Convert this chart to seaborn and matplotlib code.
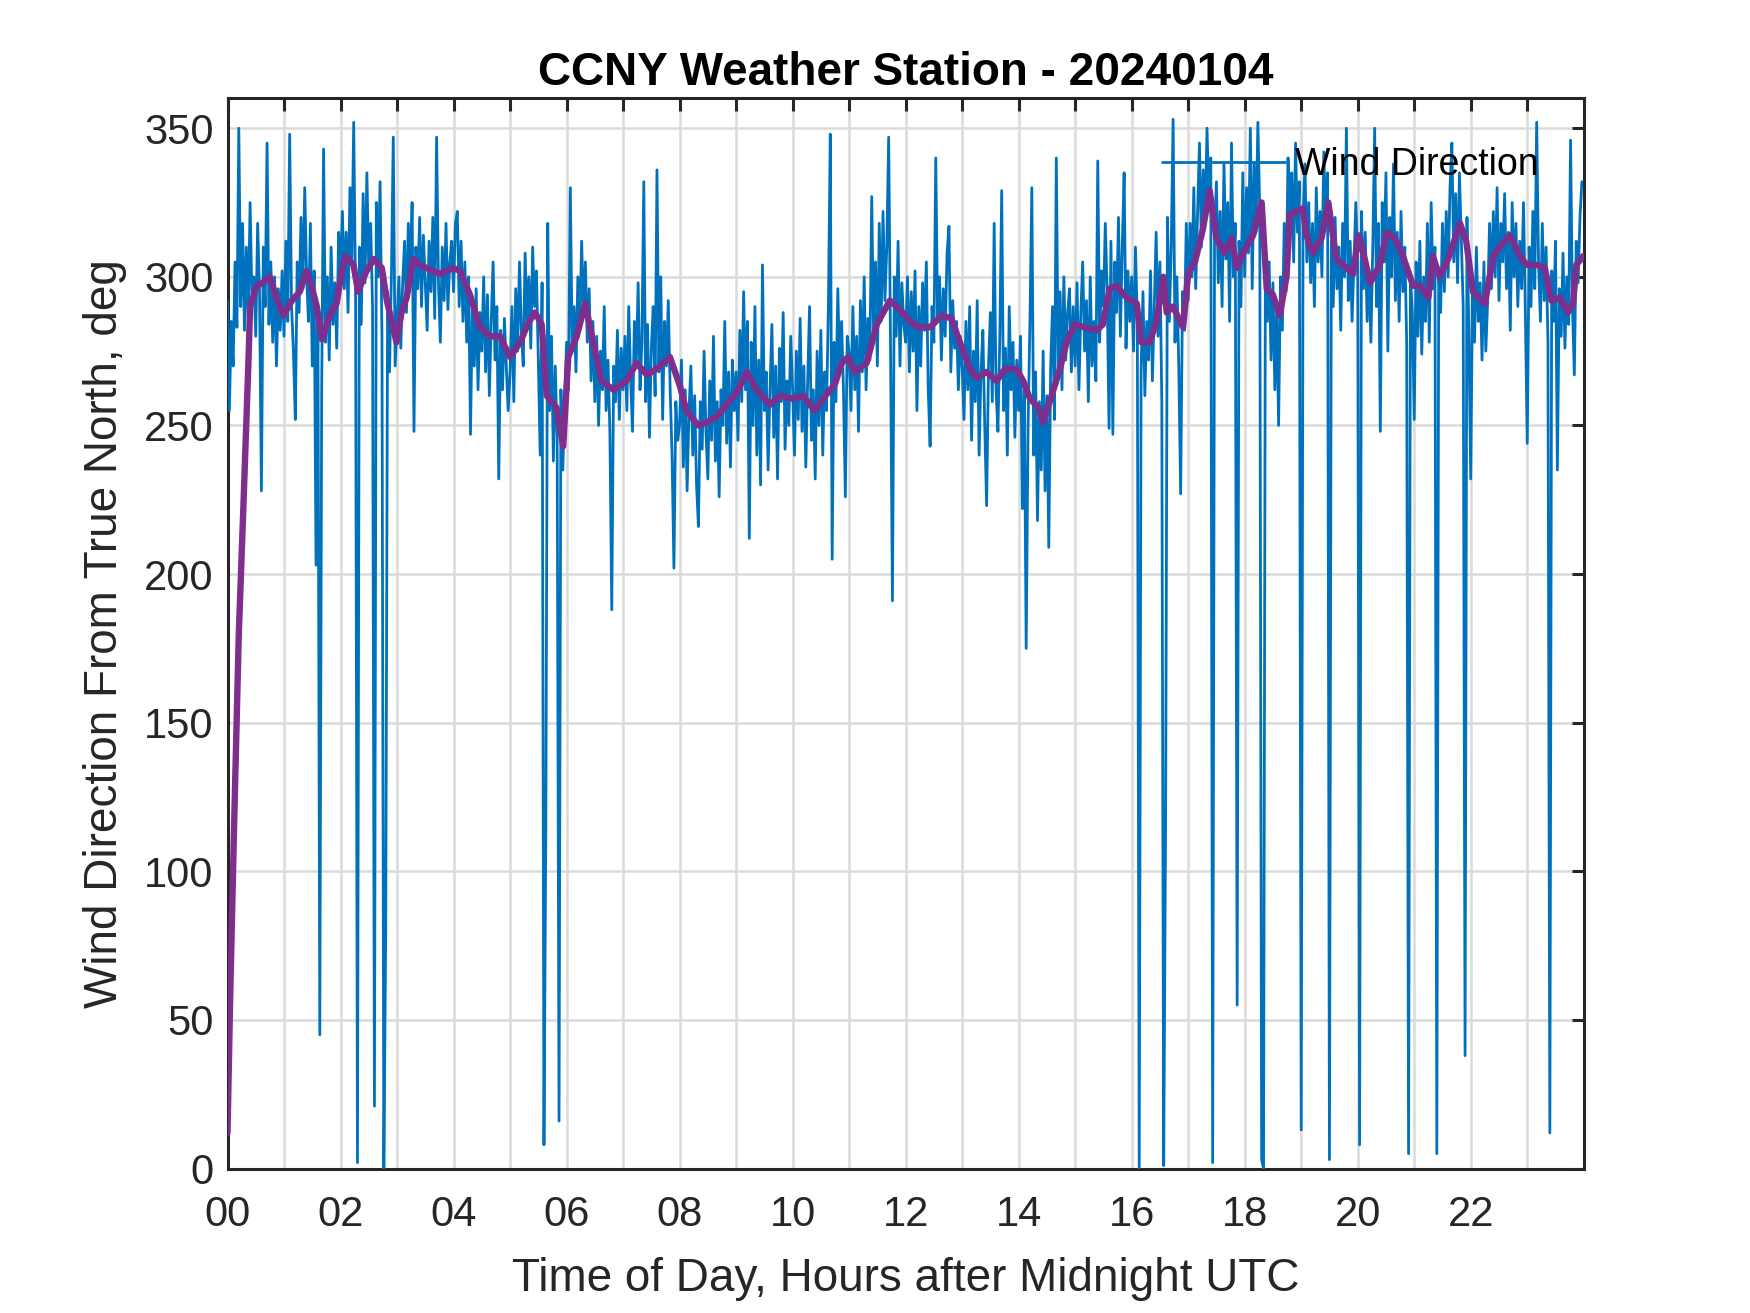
import numpy as np
import pandas as pd
import seaborn as sns
import matplotlib
matplotlib.use("Agg")
from matplotlib import pyplot as plt

# Wind direction (deg from true north), one value every 2 minutes, one row per hour
wind_dir = [
    292, 255, 285, 270, 305, 283, 350, 290, 318, 282, 310, 286, 325, 292, 300, 280, 318, 295, 228, 310, 290, 345, 284, 305, 278, 300, 270, 296, 282, 302,  # 00
    280, 312, 285, 348, 290, 275, 252, 305, 288, 320, 296, 330, 300, 285, 318, 270, 302, 203, 285, 45, 262, 343, 278, 300, 272, 310, 284, 298, 276, 315,  # 01
    300, 322, 296, 315, 288, 330, 305, 352, 292, 2, 310, 284, 328, 298, 335, 302, 318, 290, 21, 325, 300, 332, 280, 0, 80, 295, 268, 300, 347, 270,  # 02
    285, 300, 276, 298, 312, 288, 318, 300, 325, 248, 310, 296, 320, 290, 314, 298, 282, 312, 295, 320, 286, 347, 298, 278, 310, 292, 318, 289, 305, 312,  # 03
    295, 318, 322, 290, 312, 285, 305, 278, 300, 247, 290, 270, 296, 262, 288, 275, 300, 268, 294, 260, 285, 305, 272, 290, 232, 282, 262, 286, 270, 255,  # 04
    268, 290, 258, 296, 275, 305, 282, 270, 308, 285, 300, 276, 310, 290, 302, 272, 240, 298, 8, 115, 318, 255, 280, 238, 270, 246, 16, 262, 235, 258,  # 05
    278, 262, 330, 275, 290, 268, 300, 282, 312, 288, 305, 278, 296, 265, 285, 258, 280, 250, 275, 262, 290, 255, 272, 248, 188, 270, 258, 282, 252, 276,  # 06
    262, 280, 255, 290, 266, 248, 285, 270, 298, 262, 278, 332, 258, 284, 246, 276, 290, 260, 336, 268, 300, 252, 285, 270, 292, 262, 240, 202, 258, 245,  # 07
    250, 272, 236, 262, 228, 255, 270, 240, 260, 230, 216, 258, 242, 275, 248, 232, 265, 245, 280, 238, 258, 226, 262, 250, 285, 244, 268, 236, 272, 255,  # 08
    268, 245, 282, 258, 295, 262, 285, 212, 278, 250, 290, 240, 272, 230, 304, 255, 268, 235, 262, 284, 246, 270, 232, 276, 258, 288, 242, 265, 250, 280,  # 09
    262, 240, 275, 252, 286, 248, 270, 236, 265, 290, 245, 262, 232, 275, 250, 282, 240, 268, 255, 290, 348, 205, 278, 258, 296, 268, 285, 262, 226, 280,  # 10
    275, 255, 290, 262, 280, 248, 292, 268, 300, 262, 286, 272, 327, 280, 305, 270, 318, 285, 322, 292, 310, 347, 275, 191, 300, 280, 312, 270, 298, 284,  # 11
    278, 300, 268, 295, 275, 302, 255, 290, 270, 298, 282, 305, 262, 243, 290, 278, 340, 285, 300, 272, 296, 280, 308, 317, 268, 292, 276, 285, 262, 280,  # 12
    270, 252, 285, 262, 290, 245, 275, 258, 292, 240, 268, 282, 250, 223, 270, 288, 258, 318, 262, 248, 280, 329, 255, 276, 240, 290, 262, 278, 246, 272,  # 13
    255, 280, 222, 262, 175, 250, 285, 330, 240, 268, 218, 258, 235, 275, 228, 260, 209, 270, 290, 252, 340, 268, 295, 262, 300, 272, 288, 296, 268, 290,  # 14
    270, 298, 262, 288, 305, 275, 292, 258, 300, 270, 285, 265, 339, 278, 302, 290, 318, 295, 249, 312, 247, 305, 288, 320, 280, 310, 335, 276, 302, 285,  # 15
    300, 275, 310, 285, 0, 268, 295, 260, 285, 272, 302, 265, 290, 315, 280, 305, 258, 1, 115, 320, 285, 310, 353, 278, 300, 270, 227, 295, 282, 318,  # 16
    292, 318, 300, 330, 296, 322, 345, 310, 336, 318, 350, 325, 340, 2, 315, 332, 298, 322, 290, 338, 306, 325, 285, 345, 300, 318, 55, 312, 290, 335,  # 17
    300, 330, 308, 350, 296, 338, 315, 352, 322, 3, 0, 310, 285, 305, 272, 298, 262, 290, 250, 300, 282, 318, 295, 340, 322, 335, 305, 345, 315, 332,  # 18
    13, 320, 338, 305, 325, 298, 318, 290, 330, 305, 322, 300, 342, 318, 335, 3, 312, 290, 320, 296, 310, 282, 318, 300, 350, 292, 312, 285, 305, 325,  # 19
    305, 8, 322, 296, 315, 285, 302, 278, 310, 350, 290, 318, 248, 325, 305, 335, 275, 320, 300, 338, 292, 315, 285, 322, 295, 310, 278, 5, 300, 288,  # 20
    252, 305, 280, 312, 274, 300, 285, 318, 278, 325, 296, 310, 5, 302, 288, 318, 295, 322, 300, 330, 345, 305, 328, 298, 335, 312, 290, 38, 320, 281,  # 21
    232, 300, 278, 310, 285, 298, 272, 305, 275, 292, 318, 296, 322, 300, 330, 292, 318, 305, 328, 296, 315, 282, 325, 300, 318, 290, 312, 296, 325, 288,  # 22
    244, 310, 290, 322, 296, 352, 305, 285, 318, 292, 310, 278, 12, 302, 285, 312, 235, 296, 280, 308, 276, 300, 284, 346, 290, 267, 312, 298, 320, 332,  # 23
]
sample_minutes = np.arange(0, 1440, 2)

# Running mean (purple): hour, deg
mean_hours = [
    0.00, 0.05, 0.12, 0.20, 0.28, 0.34, 0.37, 0.40, 0.52, 0.62, 0.75, 0.88, 0.99,
    1.14, 1.28, 1.40, 1.50, 1.58, 1.67, 1.81, 1.93, 1.99, 2.08, 2.23, 2.31, 2.46,
    2.59, 2.73, 2.82, 2.99, 3.08, 3.17, 3.29, 3.40, 3.52, 3.64, 3.76, 3.88, 4.00,
    4.11, 4.29, 4.47, 4.64, 4.82, 5.00, 5.18, 5.31, 5.44, 5.56, 5.65, 5.82, 5.94,
    6.03, 6.18, 6.33, 6.47, 6.62, 6.83, 7.06, 7.24, 7.42, 7.59, 7.83, 8.01, 8.12,
    8.33, 8.48, 8.66, 8.83, 9.01, 9.19, 9.36, 9.60, 9.78, 10.01, 10.19, 10.39,
    10.54, 10.75, 10.87, 10.98, 11.10, 11.31, 11.49, 11.72, 11.90, 12.08, 12.22,
    12.43, 12.64, 12.81, 12.96, 13.14, 13.26, 13.43, 13.61, 13.76, 13.96, 14.08,
    14.20, 14.35, 14.43, 14.55, 14.73, 14.85, 14.99, 15.17, 15.38, 15.49, 15.61,
    15.73, 15.91, 16.09, 16.17, 16.32, 16.44, 16.56, 16.62, 16.73, 16.91, 17.00,
    17.12, 17.26, 17.38, 17.50, 17.65, 17.77, 17.86, 17.97, 18.15, 18.30, 18.39,
    18.50, 18.62, 18.74, 18.80, 19.03, 19.09, 19.21, 19.36, 19.48, 19.62, 19.80,
    19.92, 20.01, 20.10, 20.22, 20.39, 20.52, 20.66, 20.80, 20.98, 21.10, 21.25,
    21.33, 21.45, 21.60, 21.81, 21.92, 22.04, 22.25, 22.40, 22.51, 22.69, 22.87,
    22.99, 23.17, 23.31, 23.43, 23.58, 23.72, 23.81, 23.87, 23.99,
]
mean_dir = [
    12, 60, 118, 180, 222, 255, 271, 290, 297, 298, 300, 292, 287,
    292, 295, 302, 296, 290, 279, 287, 291, 298, 307, 304, 295, 302,
    306, 303, 292, 278, 288, 293, 306, 304, 303, 302, 301, 302, 303,
    302, 294, 283, 280, 280, 273, 278, 284, 288, 284, 260, 256, 243,
    273, 280, 291, 278, 265, 262, 265, 271, 267, 269, 273, 263, 255,
    250, 251, 253, 257, 261, 268, 262, 257, 260, 259, 260, 255,
    259, 264, 271, 273, 268, 271, 284, 292, 289, 285, 283,
    283, 287, 286, 278, 269, 266, 268, 265, 269, 269, 265,
    259, 256, 251, 258, 269, 278, 284, 283, 282, 284, 296,
    297, 293, 291, 278, 278, 285, 300, 288, 290, 283, 301,
    305, 316, 329, 313, 308, 313, 303, 308, 314, 325, 296,
    294, 287, 300, 321, 323, 314, 308, 313, 325, 306, 303,
    301, 314, 308, 298, 304, 315, 313, 307, 297, 297, 293,
    307, 300, 306, 318, 312, 295, 291, 307, 310, 314, 307,
    304, 304, 303, 292, 293, 288, 291, 304, 307,
]

hour_ticks = list(range(24))
hour_labels = ["%02d" % h if h % 2 == 0 else "" for h in hour_ticks]
deg_ticks = list(range(0, 351, 50))

wind = pd.DataFrame({"hour": sample_minutes / 60.0, "dir": wind_dir})
smooth = pd.DataFrame({"hour": mean_hours, "dir": mean_dir})

sns.set_style("white")
plt.rcParams["font.family"] = ["Liberation Sans", "DejaVu Sans"]

fig = plt.figure(figsize=(17.5, 13.13), dpi=100)
ax = fig.add_axes([0.13, 0.11, 0.775, 0.815])

sns.lineplot(data=wind, x="hour", y="dir", ax=ax, color="#0072BD", linewidth=2.0,
             estimator=None, sort=False, label="Wind Direction", zorder=3)
sns.lineplot(data=smooth, x="hour", y="dir", ax=ax, color="#7E2F8E", linewidth=4.6,
             estimator=None, sort=False, legend=False, zorder=4)

ax.set_xlim(0, 24)
ax.set_ylim(0, 360)
ax.set_xticks(hour_ticks)
ax.set_xticklabels(hour_labels)
ax.set_yticks(deg_ticks)

ax.grid(True, color="#dadada", linewidth=1.8, zorder=0)
ax.set_axisbelow(True)
for s in ax.spines.values():
    s.set_color("#262626")
    s.set_linewidth(2.2)
    s.set_visible(True)
ax.tick_params(axis="both", which="both", direction="in", length=9, width=2.2,
               color="#262626", labelcolor="#262626", labelsize=30,
               top=True, right=True)
ax.tick_params(axis="x", pad=19)
ax.tick_params(axis="y", pad=10)

ax.set_xlabel("Time of Day, Hours after Midnight UTC", fontsize=33, color="#262626", labelpad=16)
ax.set_ylabel("Wind Direction From True North, deg", fontsize=33, color="#262626", labelpad=12)
ax.set_title("CCNY Weather Station - 20240104", fontsize=33, fontweight="bold",
             color="black", pad=10)

leg = ax.legend(loc="center right", bbox_to_anchor=(0.879, 0.874), bbox_transform=fig.transFigure,
                frameon=False, borderpad=0, borderaxespad=0, fontsize=27,
                handlelength=3.3, handletextpad=0.25)
for t in leg.get_texts():
    t.set_color("black")

plt.savefig("out.png", dpi=100)
